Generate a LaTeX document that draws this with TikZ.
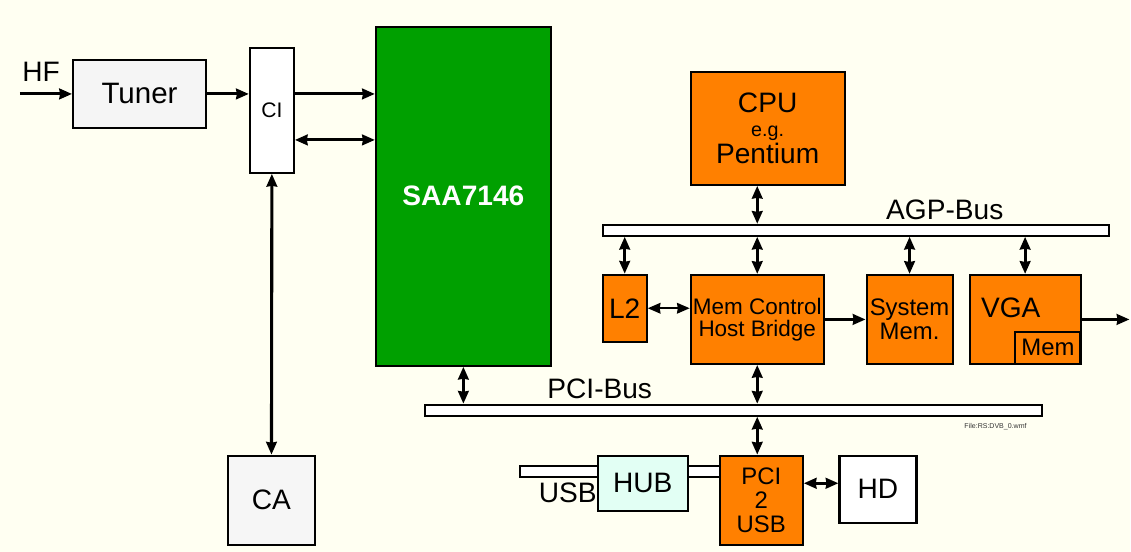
\documentclass[tikz,border=0pt]{standalone}
\usepackage{fontspec}
\setmainfont{Liberation Sans}
\usetikzlibrary{arrows.meta}
\definecolor{bgcream}{RGB}{255,255,242}
\definecolor{saagreen}{RGB}{0,160,0}
\definecolor{pcorange}{RGB}{255,128,0}
\definecolor{hubcyan}{RGB}{226,255,244}
\newcommand{\fs}[1]{\fontsize{#1}{#1}\selectfont}
\begin{document}
\begin{tikzpicture}[>={Stealth[length=9pt,width=7.5pt,inset=0.5pt]},
  every node/.style={font=\fs{20}},
  blk/.style={draw, line width=1.5pt, inner sep=0pt, align=center},
  bus/.style={draw, line width=1.4pt, fill=white, inner sep=0pt, minimum height=0.275cm},
  link/.style={line width=2.2pt}]
  \fill[bgcream] (0,0) rectangle (28.275,13.8);
  % tuner side
  \node (HF) at (1.03,12.0) {HF};
  \coordinate (hfin) at (0.5,11.45);
  \node[blk, fill=gray!8, minimum width=3.325cm, minimum height=1.7cm, font=\fs{21}] (Tuner) at (3.49,11.45) {Tuner};
  \node[blk, fill=white, minimum width=1.1cm, minimum height=3.125cm, font=\fs{15}] (CI) at (6.8,11.04) {CI};
  \node[blk, fill=gray!7, minimum width=2.175cm, minimum height=2.225cm] (CA) at (6.79,1.29) {CA};
  \node[blk, fill=saagreen, minimum width=4.375cm, minimum height=8.475cm, text=white, font=\bfseries\fs{20}] (SAA) at (11.59,8.89) {SAA7146};
  \draw[->, link] (hfin) -- (Tuner.west);
  \draw[->, link] (Tuner.east) -- (Tuner.east -| CI.west);
  \draw[->, link] (Tuner.east -| CI.east) -- (Tuner.east -| SAA.west);
  \draw[<->, link] ([yshift=-0.74cm]CI.east) -- ([yshift=-0.74cm]CI.east -| SAA.west);
  \draw[<->, link] (CI.south) -- (CA.north);
  % pc side
  \node[blk, fill=pcorange, minimum width=3.85cm, minimum height=2.825cm] (CPU) at (19.2,10.59) {CPU\\[-3pt]{\fs{14}e.g.}\\[-1pt]Pentium};
  \node[bus, minimum width=12.675cm] (AGP) at (21.41,8.04) {};
  \node (AGPlbl) at (23.63,8.55) {AGP-Bus};
  \node[blk, fill=pcorange, minimum width=1.1cm, minimum height=1.675cm] (L2) at (15.625,6.09) {L2};
  \node[blk, fill=pcorange, minimum width=3.325cm, minimum height=2.225cm, font=\fs{16}] (HB) at (18.94,5.81) {Mem Control\\Host Bridge};
  \node[blk, fill=pcorange, minimum width=2.15cm, minimum height=2.225cm, font=\fs{17}] (SysMem) at (22.75,5.81) {System\\Mem.};
  \node[blk, fill=pcorange, minimum width=2.775cm, minimum height=2.225cm] (VGA) at (25.64,5.81) {};
  \node (VGAtxt) at (25.28,6.1) {VGA};
  \node[blk, fill=pcorange, minimum width=1.625cm, minimum height=0.8cm, font=\fs{17}] (VGAmem) at (26.21,5.1) {Mem};
  \coordinate (vgaout) at (28.25,5.81);
  \draw[<->, link] (CPU.south -| HB.north) -- (AGP.north -| HB.north);
  \draw[<->, link] (AGP.south -| L2.north) -- (L2.north);
  \draw[<->, link] (AGP.south -| HB.north) -- (HB.north);
  \draw[<->, link] (AGP.south -| SysMem.north) -- (SysMem.north);
  \draw[<->, link] (AGP.south -| VGA.north) -- (VGA.north);
  \draw[<->, line width=1.5pt] (L2.east) -- (L2.east -| HB.west);
  \draw[->, link] (HB.east) -- (SysMem.west);
  \draw[->, link] (VGA.east) -- (vgaout);
  % pci bus and usb
  \node[bus, minimum width=15.425cm] (PCI) at (18.34,3.54) {};
  \node (PCIlbl) at (15.0,4.075) {PCI-Bus};
  \node[font=\fs{5}, text=gray!40!black] (file) at (24.9,3.13) {File:RS:DVB\_0.wmf};
  \draw[<->, link] (SAA.south) -- (SAA.south |- PCI.north);
  \draw[<->, link] (HB.south) -- (HB.south |- PCI.north);
  \node[bus, minimum width=1.95cm] (USBbus) at (13.975,2.0125) {};
  \node[bus, minimum width=0.8cm] (USBlink) at (17.6,2.0125) {};
  \node[blk, fill=hubcyan, minimum width=2.25cm, minimum height=1.375cm] (HUB) at (16.075,1.71) {HUB};
  \node (USBlbl) at (14.2,1.475) {USB};
  \node[blk, fill=pcorange, minimum width=2.075cm, minimum height=2.225cm, font=\fs{17}] (P2U) at (19.04,1.29) {PCI\\2\\USB};
  \node[blk, fill=white, minimum width=1.925cm, minimum height=1.675cm] (HD) at (21.96,1.5625) {HD};
  \draw[<->, link] (PCI.south -| HB.south) -- (P2U.north -| HB.south);
  \draw[<->, link] ([yshift=0.15cm]HD.west -| P2U.east) -- ([yshift=0.15cm]HD.west);
\end{tikzpicture}
\end{document}
